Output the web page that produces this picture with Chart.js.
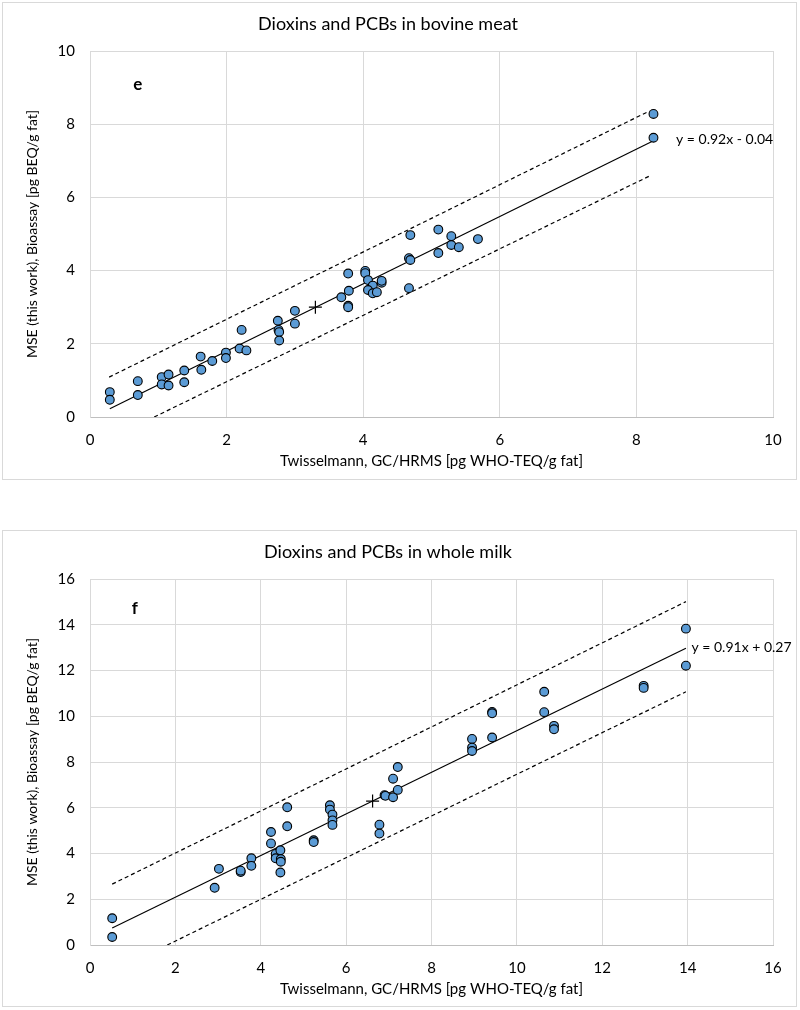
<!DOCTYPE html>
<html>
<head>
<meta charset="utf-8">
<script src="https://cdn.jsdelivr.net/npm/chart.js@4.4.0/dist/chart.umd.min.js"></script>
<style>
  body { margin: 0; background: #fff; width: 800px; height: 1010px; position: relative; }
  .box { position: absolute; left: 2px; width: 793px; border: 1px solid #d9d9d9; background: #fff; }
  #boxMeat { top: 2px; height: 476px; }
  #boxMilk { top: 530px; height: 475px; }
  canvas { display: block; }
</style>
</head>
<body>
<div class="box" id="boxMeat"><canvas id="chartMeat" width="793" height="476"></canvas></div>
<div class="box" id="boxMilk"><canvas id="chartMilk" width="793" height="475"></canvas></div>
<script>
// === e: bovine meat ===
const meatX = [0.29, 0.29, 0.70, 0.70, 1.05, 1.05, 1.15, 1.15, 1.38, 1.38, 1.62, 1.63, 1.79, 1.99, 1.99,
  2.22, 2.19, 2.29, 2.75, 2.76, 2.77, 2.77, 3.00, 3.00, 3.68, 3.78, 3.79, 3.78, 3.78, 4.03, 4.03, 4.07,
  4.14, 4.07, 4.14, 4.20, 4.27, 4.27, 4.69, 4.67, 4.69, 4.67, 5.10, 5.10, 5.29, 5.29, 5.40, 5.68, 8.25, 8.25];
const meatY = [0.68, 0.47, 0.98, 0.60, 1.09, 0.89, 1.16, 0.86, 1.27, 0.95, 1.65, 1.29, 1.53, 1.76, 1.61,
  2.38, 1.87, 1.82, 2.63, 2.38, 2.32, 2.09, 2.90, 2.55, 3.27, 3.92, 3.45, 3.04, 3.00, 3.99, 3.93, 3.74,
  3.59, 3.47, 3.38, 3.41, 3.67, 3.72, 4.97, 4.34, 4.29, 3.52, 5.12, 4.48, 4.94, 4.70, 4.64, 4.86, 8.28, 7.63];
const meatMean = [3.30, 3.00];
const meatFit = [0.92, -0.04];        // slope, intercept
const meatFitRange = [0.29, 8.25];
const meatUpperX = [0.28, 8.19], meatUpperY = [1.09, 8.36];
const meatLowerX = [0.94, 8.21], meatLowerY = [0.00, 6.60];
const meatTicks = [0, 2, 4, 6, 8, 10];

// === f: whole milk ===
const milkX = [0.52, 0.52, 2.92, 3.02, 3.53, 3.53, 3.78, 3.78, 4.24, 4.24, 4.35, 4.35, 4.46, 4.47, 4.47,
  4.46, 4.62, 4.62, 5.24, 5.24, 5.62, 5.62, 5.68, 5.68, 5.68, 6.78, 6.78, 6.90, 6.92, 7.10, 7.10, 7.21,
  7.21, 8.95, 8.95, 8.95, 9.42, 9.42, 9.42, 10.64, 10.64, 10.87, 10.87, 12.97, 12.97, 13.96, 13.96];
const milkY = [1.17, 0.35, 2.50, 3.33, 3.19, 3.25, 3.79, 3.46, 4.94, 4.44, 3.98, 3.79, 4.14, 3.76, 3.64,
  3.17, 6.02, 5.19, 4.58, 4.50, 6.11, 5.92, 5.70, 5.45, 5.25, 5.26, 4.87, 6.55, 6.52, 7.27, 6.46, 7.78,
  6.78, 9.01, 8.63, 8.48, 10.19, 10.13, 9.07, 11.07, 10.18, 9.58, 9.43, 11.33, 11.24, 13.83, 12.21];
const milkMean = [6.62, 6.29];
const milkFit = [0.91, 0.27];
const milkFitRange = [0.52, 13.96];
const milkUpperX = [0.52, 13.96], milkUpperY = [2.66, 15.01];
const milkLowerX = [1.81, 13.96], milkLowerY = [0.00, 11.07];
const milkTicks = [0, 2, 4, 6, 8, 10, 12, 14, 16];

const FONT = "Lato, 'Open Sans', sans-serif";
const GRID = "#d9d9d9";

const notes = {
  id: "notes",
  afterDatasetsDraw(chart, args, opts) {
    const { ctx, scales: { x, y } } = chart;
    ctx.save();
    ctx.fillStyle = "#000";
    ctx.textBaseline = "middle";
    ctx.textAlign = "center";
    ctx.font = "bold 17px " + FONT;
    ctx.fillText(opts.panel, x.getPixelForValue(opts.panelAt[0]), y.getPixelForValue(opts.panelAt[1]));
    ctx.textAlign = "left";
    ctx.font = "14px " + FONT;
    ctx.fillText(opts.equation, x.getPixelForValue(opts.equationAt[0]), y.getPixelForValue(opts.equationAt[1]));
    ctx.restore();
  }
};

function pairs(xs, ys) {
  return xs.map((v, i) => ({ x: v, y: ys[i] }));
}

function makeChart(id, cfg) {
  const c = document.getElementById(id);
  const [m, b] = cfg.fit;
  const fitLine = cfg.fitRange.map(v => ({ x: v, y: m * v + b }));
  const lineStyle = { type: "scatter", showLine: true, pointRadius: 0, borderColor: "#000", borderWidth: 1.2, fill: false };

  return new Chart(c, {
    type: "scatter",
    data: {
      datasets: [
        {
          data: pairs(cfg.xs, cfg.ys),
          pointRadius: 4.4,
          pointBackgroundColor: "#5b9bd5",
          pointBorderColor: "#000",
          pointBorderWidth: 1.1
        },
        {
          data: [{ x: cfg.mean[0], y: cfg.mean[1] }],
          pointStyle: "cross",
          pointRadius: 6.5,
          pointBorderColor: "#000",
          pointBorderWidth: 1.2
        },
        { ...lineStyle, data: fitLine },
        { ...lineStyle, data: pairs(cfg.upperX, cfg.upperY), borderDash: [4, 3] },
        { ...lineStyle, data: pairs(cfg.lowerX, cfg.lowerY), borderDash: [4, 3] }
      ]
    },
    options: {
      responsive: false,
      animation: false,
      layout: { padding: { left: 0, right: 23, top: 0, bottom: 0 } },
      plugins: {
        legend: { display: false },
        tooltip: { enabled: false },
        title: {
          display: true,
          text: cfg.title,
          color: "#000",
          font: { family: FONT, size: 18, weight: "normal" },
          padding: { top: 10.5, bottom: 15.9 }
        },
        notes: cfg.notes
      },
      scales: {
        x: {
          type: "linear",
          min: 0, max: cfg.ticks[cfg.ticks.length - 1],
          afterBuildTicks: s => { s.ticks = cfg.ticks.map(v => ({ value: v })); },
          afterFit: s => { s.height = c.height - 414; },
          grid: { color: GRID, drawTicks: false },
          border: { color: "#bfbfbf" },
          ticks: { color: "#000", padding: 14, font: { family: FONT, size: 15 } },
          title: {
            display: true,
            text: "Twisselmann, GC/HRMS [pg WHO-TEQ/g fat]",
            color: "#000",
            font: { family: FONT, size: 15 },
            padding: { top: 0, bottom: 8.5 + (c.height - 476) }
          }
        },
        y: {
          type: "linear",
          min: 0, max: cfg.ticks[cfg.ticks.length - 1],
          afterBuildTicks: s => { s.ticks = cfg.ticks.map(v => ({ value: v })); },
          afterFit: s => { s.width = 87; },
          grid: { color: GRID, drawTicks: false },
          border: { color: GRID },
          ticks: { color: "#000", padding: 15, font: { family: FONT, size: 15 } },
          title: {
            display: true,
            text: "MSE (this work), Bioassay [pg BEQ/g fat]",
            color: "#000",
            font: { family: FONT, size: 14 },
            padding: { top: 21.5, bottom: 0 }
          }
        }
      }
    },
    plugins: [notes]
  });
}

makeChart("chartMeat", {
  title: "Dioxins and PCBs in bovine meat",
  xs: meatX, ys: meatY, mean: meatMean,
  fit: meatFit, fitRange: meatFitRange,
  upperX: meatUpperX, upperY: meatUpperY,
  lowerX: meatLowerX, lowerY: meatLowerY,
  ticks: meatTicks,
  notes: { panel: "e", panelAt: [0.70, 9.09], equation: "y = 0.92x - 0.04", equationAt: [8.58, 7.57] }
});

makeChart("chartMilk", {
  title: "Dioxins and PCBs in whole milk",
  xs: milkX, ys: milkY, mean: milkMean,
  fit: milkFit, fitRange: milkFitRange,
  upperX: milkUpperX, upperY: milkUpperY,
  lowerX: milkLowerX, lowerY: milkLowerY,
  ticks: milkTicks,
  notes: { panel: "f", panelAt: [1.05, 14.69], equation: "y = 0.91x + 0.27", equationAt: [14.09, 13.01] }
});
</script>
</body>
</html>
